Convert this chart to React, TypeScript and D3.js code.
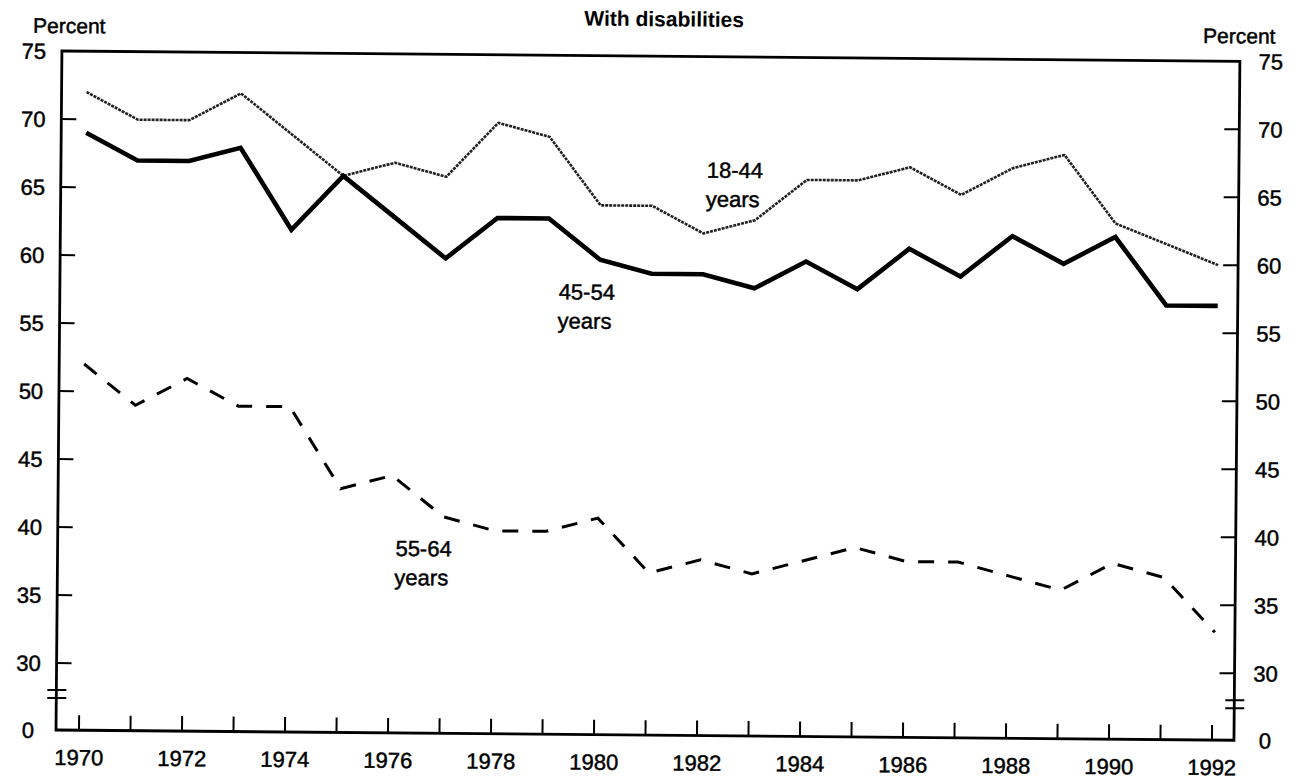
import React from "react";
import * as d3 from "d3";

const years = [1970, 1971, 1972, 1973, 1974, 1975, 1976, 1977, 1978, 1979, 1980, 1981, 1982, 1983, 1984, 1985, 1986, 1987, 1988, 1989, 1990, 1991, 1992];
const age18to44 = [72, 70, 70, 72, 69, 66, 67, 66, 70, 69, 64, 64, 62, 63, 66, 66, 67, 65, 67, 68, 63, 61.5, 60];
const age45to54 = [69, 67, 67, 68, 62, 66, 63, 60, 63, 63, 60, 59, 59, 58, 60, 58, 61, 59, 62, 60, 62, 57, 57];
const age55to64 = [52, 49, 51, 49, 49, 43, 44, 41, 40, 40, 41, 37, 38, 37, 38, 39, 38, 38, 37, 36, 38, 37, 33];
const yTicks = [30, 35, 40, 45, 50, 55, 60, 65, 70, 75];
const xTickLabels = [1970, 1972, 1974, 1976, 1978, 1980, 1982, 1984, 1986, 1988, 1990, 1992];
const title = "With disabilities";
const axisLabel = "Percent";
const seriesNames = ["18-44", "45-54", "55-64"];
const unitWord = "years";

export default function App() {
  const W = 1300, H = 780;
  const left = 56, right = 1234, top = 51, bottom = 730;
  const x = d3.scaleLinear().domain([1970, 1992]).range([81, 1214]);
  const yMain = d3.scaleLinear().domain([30, 75]).range([663, top]);
  const y = (v: number) => (v === 0 ? bottom : yMain(v));
  const line = d3.line<number>().x((_, i) => x(years[i])).y((d) => y(d));
  const font = "'Liberation Sans', Arial, Helvetica, sans-serif";
  const fs = 22;
  const breakYs = [690, 698];
  const textStroke = { stroke: "#000", strokeWidth: 0.45 };

  const labelPos = [
    { name: seriesNames[0], x: 730, y: 172 },
    { name: seriesNames[1], x: 583, y: 295 },
    { name: seriesNames[2], x: 422, y: 553 },
  ];

  return (
    <svg width={W} height={H} style={{ display: "block", position: "absolute", left: 0, top: 0, background: "#fff" }}>
      <rect x={0} y={0} width={W} height={H} fill="#fff" />
      <g transform={`rotate(0.5 ${left} ${bottom})`} fontFamily={font} fill="#000">
        <text x={658} y={21} textAnchor="middle" fontWeight="bold" fontSize={21}>{title}</text>
        <text x={27} y={33} fontSize={21} {...textStroke}>{axisLabel}</text>
        <text x={1197} y={33} fontSize={21} {...textStroke}>{axisLabel}</text>

        {/* frame */}
        <rect x={left} y={top} width={right - left} height={bottom - top} fill="none" stroke="#000" strokeWidth={2.8} />

        {/* y ticks */}
        {yTicks.filter((t) => t !== 75).map((t) => (
          <g key={"yt" + t}>
            <line x1={left} x2={left + 15} y1={y(t)} y2={y(t)} stroke="#000" strokeWidth={2} />
            <line x1={right - 15} x2={right} y1={y(t)} y2={y(t)} stroke="#000" strokeWidth={2} />
          </g>
        ))}
        {[...yTicks, 0].map((t) => (
          <g key={"yl" + t} fontSize={fs} {...textStroke}>
            <text x={left - 28} y={y(t) + 8} textAnchor="middle">{t}</text>
            <text x={right + 31} y={y(t) + 8} textAnchor="middle">{t}</text>
          </g>
        ))}
        {/* axis breaks */}
        {breakYs.map((by) => (
          <g key={"b" + by}>
            <line x1={left - 9} x2={left + 10} y1={by} y2={by} stroke="#000" strokeWidth={2} />
            <line x1={right - 9} x2={right + 10} y1={by} y2={by} stroke="#000" strokeWidth={2} />
          </g>
        ))}

        {/* x ticks */}
        {years.map((yr) => (
          <line key={"xt" + yr} x1={x(yr) - 2} x2={x(yr) - 2} y1={bottom} y2={bottom - 15} stroke="#000" strokeWidth={2} />
        ))}
        {xTickLabels.map((yr) => (
          <text key={"xl" + yr} x={x(yr) - 2} y={bottom + 35} textAnchor="middle" fontSize={fs} {...textStroke}>{yr}</text>
        ))}

        {/* series */}
        <path d={line(age18to44) || ""} fill="none" stroke="#222" strokeWidth={2.6} strokeDasharray="3 1" strokeLinejoin="round" />
        <path d={line(age45to54) || ""} fill="none" stroke="#000" strokeWidth={4.6} strokeLinejoin="miter" />
        <path d={line(age55to64) || ""} fill="none" stroke="#000" strokeWidth={3} strokeDasharray="16 14" />

        {labelPos.map((l) => (
          <g key={l.name} fontSize={fs} textAnchor="middle" {...textStroke}>
            <text x={l.x} y={l.y}>{l.name}</text>
            <text x={l.x - 2} y={l.y + 29}>{unitWord}</text>
          </g>
        ))}
      </g>
    </svg>
  );
}
